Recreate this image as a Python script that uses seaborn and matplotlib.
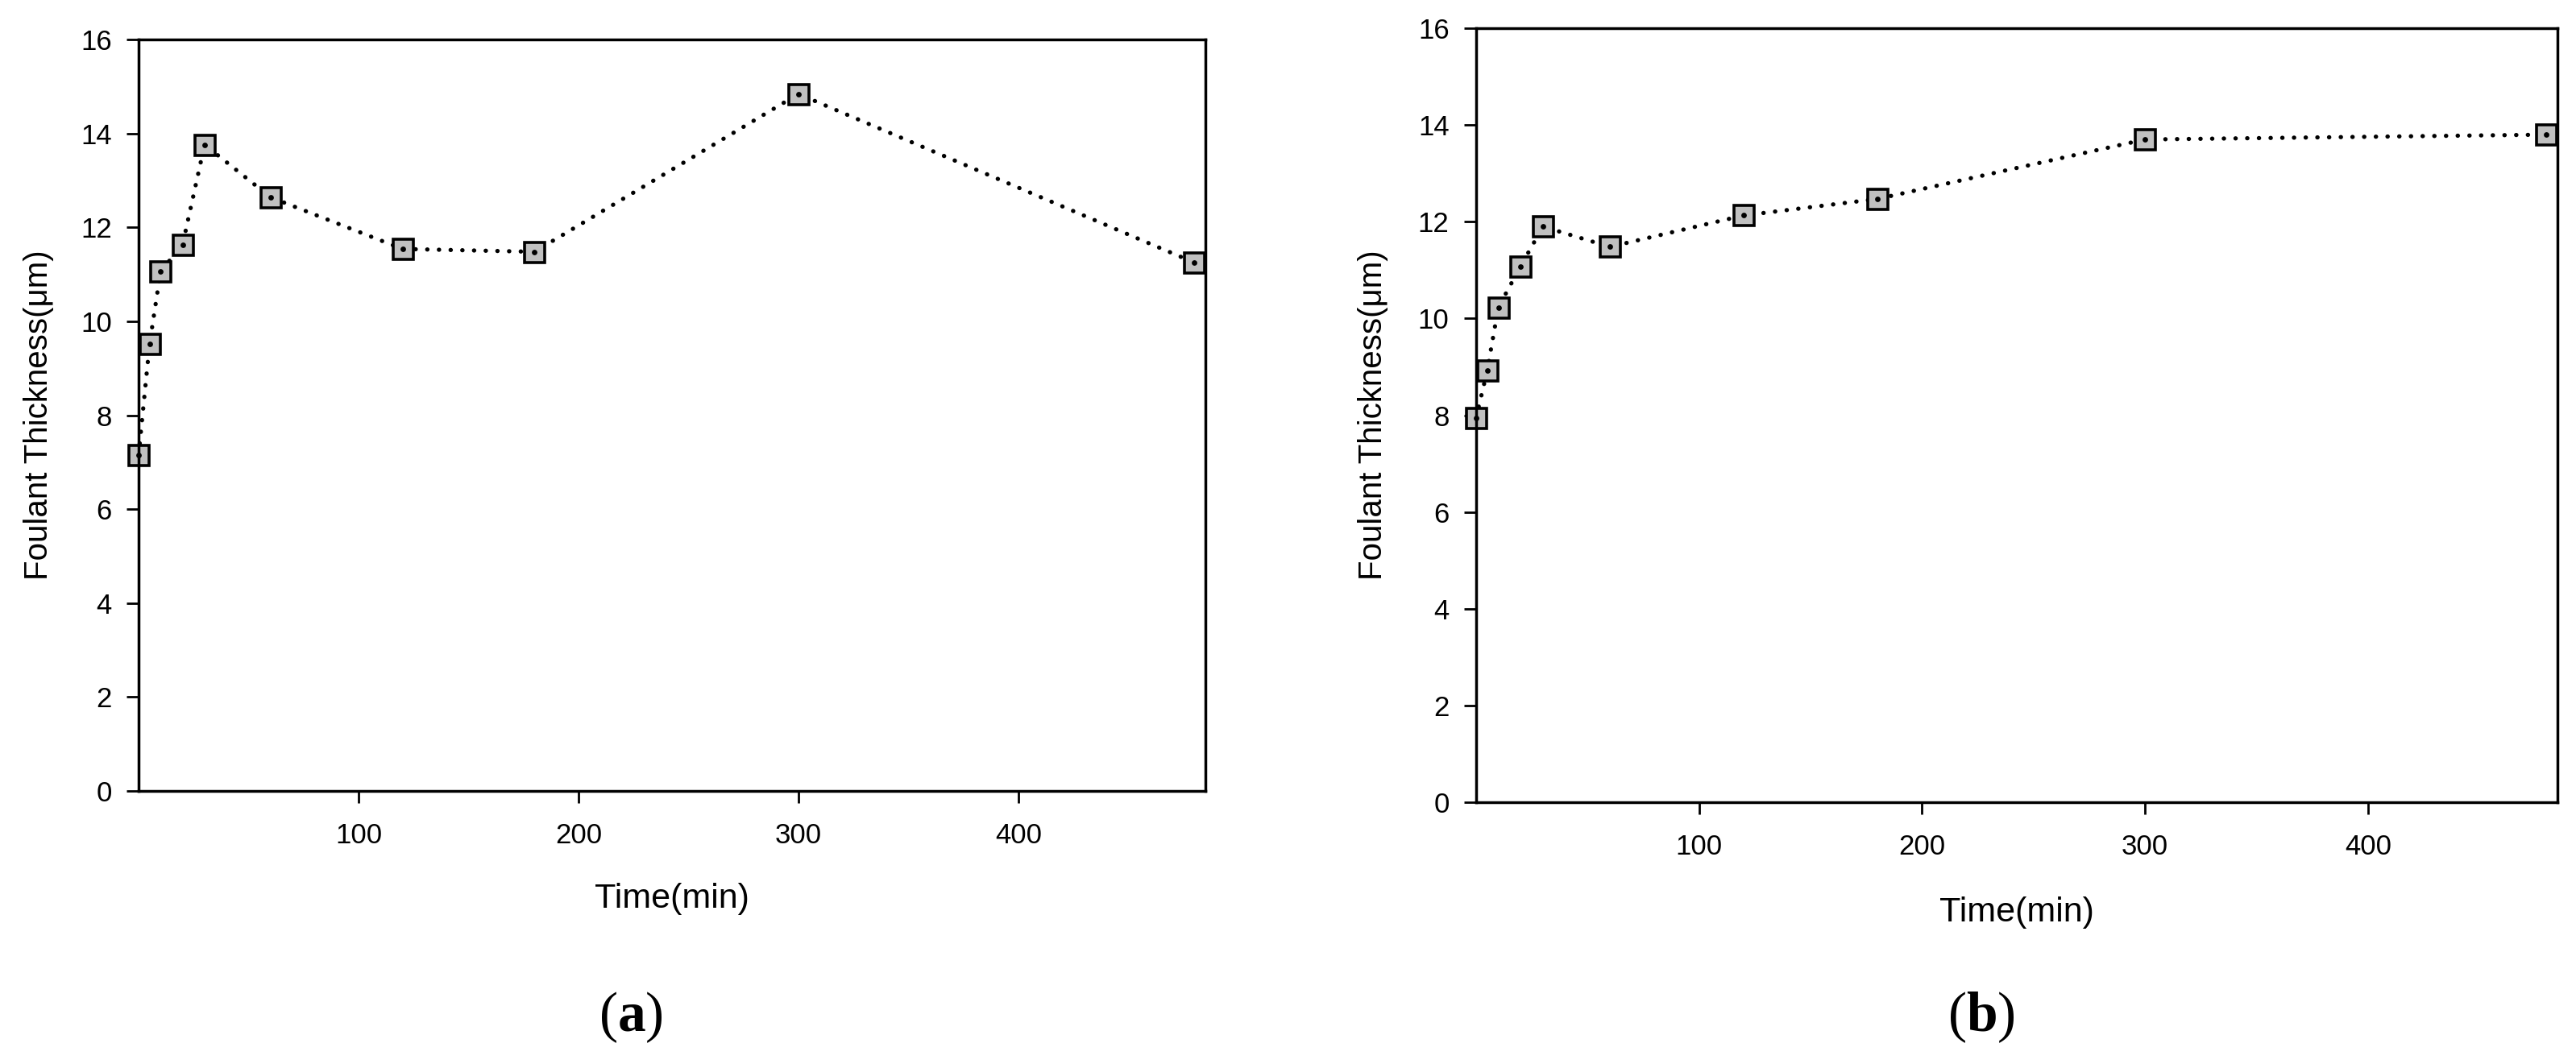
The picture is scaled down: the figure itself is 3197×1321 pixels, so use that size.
# -*- coding: utf-8 -*-
import pandas as pd
import seaborn as sns
import matplotlib.pyplot as plt

# Datos
tiempo = [0, 5, 10, 20, 30, 60, 120, 180, 300, 480]
espesor_a = [7.15, 9.52, 11.06, 11.63, 13.76, 12.64, 11.54, 11.48, 14.84, 11.25]
espesor_b = [7.94, 8.92, 10.23, 11.08, 11.90, 11.48, 12.13, 12.47, 13.70, 13.80]
ticks_x = [100, 200, 300, 400]
ticks_y = [0, 2, 4, 6, 8, 10, 12, 14, 16]

sns.set_style("ticks")
plt.rcParams["font.family"] = ["Liberation Sans", "DejaVu Sans"]
plt.rcParams["mathtext.fontset"] = "custom"
plt.rcParams["mathtext.rm"] = "Liberation Serif"
plt.rcParams["mathtext.bf"] = "Liberation Serif:bold"
for clave in ["text.color", "axes.labelcolor", "xtick.color", "ytick.color"]:
    plt.rcParams[clave] = "black"

fig = plt.figure(figsize=(31.97, 13.21), dpi=100)
ax_a = fig.add_axes([0.0538, 0.2566, 0.4141, 0.7063])
ax_b = fig.add_axes([0.5730, 0.2460, 0.4198, 0.7275])

paneles = [(ax_a, espesor_a, "a", 783), (ax_b, espesor_b, "b", 2459)]

for ax, espesor, letra, xletra in paneles:
    df = pd.DataFrame({"Tiempo": tiempo, "Espesor": espesor})
    sns.lineplot(data=df, x="Tiempo", y="Espesor", ax=ax, color="black",
                 lw=3.8, linestyle=(0, (0.05, 2.7)), dash_capstyle="round",
                 marker="s", markersize=18, markerfacecolor="#c0c0c0",
                 markeredgecolor="black", markeredgewidth=2.6, clip_on=False)
    # punto central de cada marcador
    sns.scatterplot(data=df, x="Tiempo", y="Espesor", ax=ax, color="black",
                    marker="o", s=24, linewidth=0, zorder=5, clip_on=False)

    ax.set_xlim(0, 485)
    ax.set_ylim(0, 16)
    ax.set_xticks(ticks_x)
    ax.set_yticks(ticks_y)
    ax.tick_params(axis="both", direction="out", length=11, width=2,
                   labelsize=25, color="black")
    ax.tick_params(axis="x", pad=17)
    ax.tick_params(axis="y", pad=13)
    for s in ax.spines.values():
        s.set_visible(True)
        s.set_linewidth(2.5)
        s.set_color("black")

    ax.set_xlabel("Time(min)", size=31)
    ax.set_ylabel("Foulant Thickness(μm)", size=29)
    ax.xaxis.set_label_coords(0.5, -0.122)
    ax.yaxis.set_label_coords(-0.079 if letra == "a" else -0.081, 0.5)

    fig.text(xletra / 3197, 1 - 1263 / 1321, r"$(\mathbf{" + letra + r"})$",
             ha="center", va="center", size=50)

fig.savefig("out.png", dpi=100)
